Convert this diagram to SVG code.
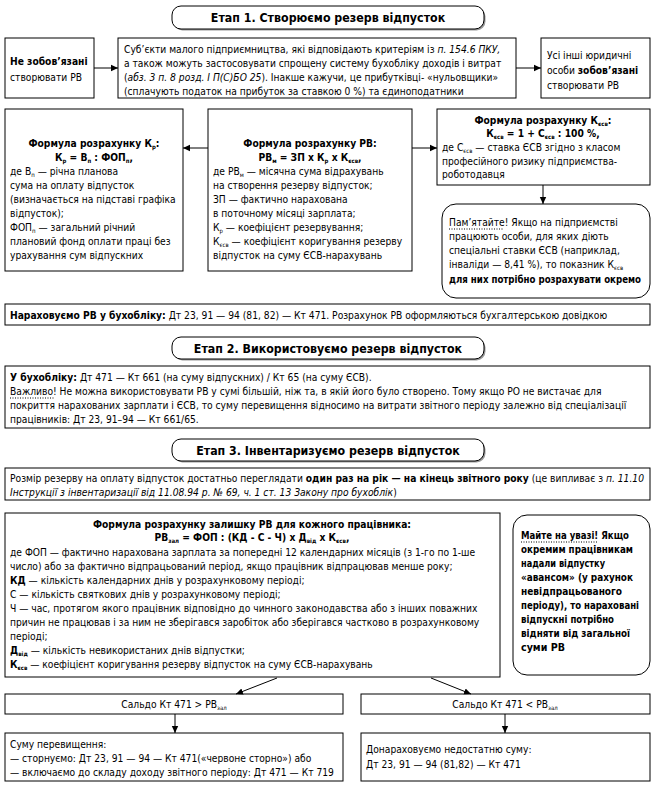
<svg xmlns="http://www.w3.org/2000/svg" width="656" height="787" viewBox="0 0 656 787">
<defs>
<marker id="ah" markerWidth="8" markerHeight="8" refX="7" refY="4" orient="auto" markerUnits="userSpaceOnUse">
<path d="M0,0.8 L7,4 L0,7.2 Z" fill="#000"/>
</marker>
<style>
text{font-family:"DejaVu Sans Condensed","Liberation Sans Narrow","Open Sans",sans-serif;font-size:10.2px;fill:#000}
.b{font-weight:bold}
.i{font-style:italic}
.c{text-anchor:middle}
.h{font-size:12.3px;font-weight:bold;text-anchor:middle}
.s{font-size:6px}
.nb{font-weight:bold;font-size:10.6px}
.box{fill:#fff;stroke:#000;stroke-width:1}
.tb{fill:#fff;stroke:#000;stroke-width:1}
.sh{fill:#999;stroke:none}
.con{stroke:#000;stroke-width:1;fill:none;marker-end:url(#ah)}
.dot{stroke:#000;stroke-width:1;stroke-dasharray:1,1.5}
</style>
</defs>
<rect width="656" height="787" fill="#fff"/>

<g id="title1">
<rect class="sh" x="173.5" y="7.5" width="312" height="23" rx="9"/>
<rect class="tb" x="172" y="6" width="312" height="23" rx="9"/>
<text class="h" x="328" y="22">Етап 1. Створюємо резерв відпусток</text>
</g>

<g id="n-not-obliged">
<rect class="box" x="5" y="38" width="89" height="60"/>
<text x="10" y="65"><tspan class="b">Не зобов’язані</tspan></text>
<text x="10" y="81">створювати РВ</text>
</g>

<g id="n-small-business">
<rect class="box" x="118" y="38" width="398" height="60"/>
<text x="124" y="53">Суб’єкти малого підприємництва, які відповідають критеріям із <tspan class="i">п. 154.6 ПКУ,</tspan></text>
<text x="124" y="67">а також можуть застосовувати спрощену систему бухобліку доходів і витрат</text>
<text x="124" y="81">(<tspan class="i">абз. 3 п. 8 розд. І П(С)БО 25</tspan>). Інакше кажучи, це прибутківці- «нульовщики»</text>
<text x="124" y="95">(сплачують податок на прибуток за ставкою 0 %) та єдиноподатники</text>
</g>

<g id="n-obliged">
<rect class="box" x="541" y="38" width="109" height="60"/>
<text x="547" y="59">Усі інші юридичні</text>
<text x="547" y="74">особи <tspan class="b">зобов’язані</tspan></text>
<text x="547" y="89">створювати РВ</text>
</g>

<g id="n-kr">
<rect class="box" x="5" y="109" width="178" height="162"/>
<text class="c b" x="94" y="147">Формула розрахунку К<tspan class="s" dy="2">р</tspan><tspan dy="-2">:</tspan></text>
<text class="c b" x="94" y="161">К<tspan class="s" dy="2">р</tspan><tspan dy="-2"> = В</tspan><tspan class="s" dy="2">п</tspan><tspan dy="-2"> : ФОП</tspan><tspan class="s" dy="2">п</tspan><tspan dy="-2">,</tspan></text>
<text x="10" y="175">де В<tspan class="s" dy="2">п</tspan><tspan dy="-2"> — річна планова</tspan></text>
<text x="10" y="189">сума на оплату відпусток</text>
<text x="10" y="203">(визначається на підставі графіка</text>
<text x="10" y="217">відпусток);</text>
<text x="10" y="231">ФОП<tspan class="s" dy="2">п</tspan><tspan dy="-2"> — загальний річний</tspan></text>
<text x="10" y="245">плановий фонд оплати праці без</text>
<text x="10" y="259">урахування сум відпускних</text>
</g>

<g id="n-rv">
<rect class="box" x="208" y="109" width="204" height="162"/>
<text class="c b" x="310" y="147">Формула розрахунку РВ:</text>
<text class="c b" x="310" y="161">РВ<tspan class="s" dy="2">м</tspan><tspan dy="-2"> = ЗП х К</tspan><tspan class="s" dy="2">р</tspan><tspan dy="-2"> х К</tspan><tspan class="s" dy="2">єсв</tspan><tspan dy="-2">,</tspan></text>
<text x="213" y="175">де РВ<tspan class="s" dy="2">м</tspan><tspan dy="-2"> — місячна сума відрахувань</tspan></text>
<text x="213" y="189">на створення резерву відпусток;</text>
<text x="213" y="203">ЗП — фактично нарахована</text>
<text x="213" y="217">в поточному місяці зарплата;</text>
<text x="213" y="231">К<tspan class="s" dy="2">р</tspan><tspan dy="-2"> — коефіцієнт резервування;</tspan></text>
<text x="213" y="245">К<tspan class="s" dy="2">єсв</tspan><tspan dy="-2"> — коефіцієнт коригування резерву</tspan></text>
<text x="213" y="259">відпусток на суму ЄСВ-нарахувань</text>
</g>

<g id="n-kesv">
<rect class="box" x="437" y="109" width="213" height="76"/>
<text class="c b" x="543" y="124">Формула розрахунку К<tspan class="s" dy="2">єсв</tspan><tspan dy="-2">:</tspan></text>
<text class="c b" x="543" y="137">К<tspan class="s" dy="2">єсв</tspan><tspan dy="-2"> = 1 + С</tspan><tspan class="s" dy="2">єсв</tspan><tspan dy="-2"> : 100 %,</tspan></text>
<text x="442" y="151">де С<tspan class="s" dy="2">єсв</tspan><tspan dy="-2"> — ставка ЄСВ згідно з класом</tspan></text>
<text x="442" y="165">професійного ризику підприємства-</text>
<text x="442" y="178">роботодавця</text>
</g>

<g id="n-remember">
<rect class="box" x="442" y="204" width="208" height="94" rx="14"/>
<text x="449" y="226">Пам’ятайте! Якщо на підприємстві</text>
<line class="dot" x1="449" y1="229" x2="503" y2="229"/>
<text x="449" y="240">працюють особи, для яких діють</text>
<text x="449" y="254">спеціальні ставки ЄСВ (наприклад,</text>
<text x="449" y="268">інваліди — 8,41 %), то показник К<tspan class="s" dy="2">єсв</tspan></text>
<text class="b" x="449" y="283" textLength="192" lengthAdjust="spacingAndGlyphs">для них потрібно розрахувати окремо</text>
</g>

<g id="n-accrue">
<rect class="box" x="5" y="304" width="645" height="21"/>
<text x="10" y="319"><tspan class="b">Нараховуємо РВ у бухобліку:</tspan> Дт 23, 91 — 94 (81, 82) — Кт 471. Розрахунок РВ оформляються бухгалтерською довідкою</text>
</g>

<g id="title2">
<rect class="sh" x="173.5" y="338.5" width="312" height="22" rx="9"/>
<rect class="tb" x="172" y="337" width="312" height="22" rx="9"/>
<text class="h" x="328" y="353">Етап 2. Використовуємо резерв відпусток</text>
</g>

<g id="n-use">
<rect class="box" x="5" y="366" width="645" height="62"/>
<text x="10" y="381"><tspan class="b">У бухобліку:</tspan> Дт 471 — Кт 661 (на суму відпускних) / Кт 65 (на суму ЄСВ).</text>
<text x="10" y="395">Важливо! Не можна використовувати РВ у сумі більшій, ніж та, в якій його було створено. Тому якщо РО не вистачає для</text>
<line class="dot" x1="10" y1="398" x2="54" y2="398"/>
<text x="10" y="409">покриття нарахованих зарплати і ЄСВ, то суму перевищення відносимо на витрати звітного періоду залежно від спеціалізації</text>
<text x="10" y="423">працівників: Дт 23, 91–94 — Кт 661/65.</text>
</g>

<g id="title3">
<rect class="sh" x="173.5" y="440.5" width="312" height="22" rx="9"/>
<rect class="tb" x="172" y="439" width="312" height="22" rx="9"/>
<text class="h" x="328" y="455">Етап 3. Інвентаризуємо резерв відпусток</text>
</g>

<g id="n-review">
<rect class="box" x="5" y="468" width="645" height="32"/>
<text x="10" y="482">Розмір резерву на оплату відпусток достатньо переглядати <tspan class="b">один раз на рік — на кінець звітного року</tspan> (це випливає з <tspan class="i">п. 11.10</tspan></text>
<text x="10" y="496"><tspan class="i">Інструкції з інвентаризації від 11.08.94 р. № 69, ч. 1 ст. 13 Закону про бухоблік</tspan>)</text>
</g>

<g id="n-balance-formula">
<rect class="box" x="5" y="513" width="495" height="164"/>
<text class="c b" x="252" y="528">Формула розрахунку залишку РВ для кожного працівника:</text>
<text class="c b" x="252" y="541">РВ<tspan class="s" dy="2">зал</tspan><tspan dy="-2">  = ФОП : (КД - С - Ч) х Д</tspan><tspan class="s" dy="2">від</tspan><tspan dy="-2"> х К</tspan><tspan class="s" dy="2">єсв</tspan><tspan dy="-2">,</tspan></text>
<text x="10" y="556">де ФОП — фактично нарахована зарплата за попередні 12 календарних місяців (з 1-го по 1-ше</text>
<text x="10" y="570">число) або за фактично відпрацьований період, якщо працівник відпрацював менше року;</text>
<text x="10" y="584"><tspan class="b">КД</tspan> — кількість календарних днів у розрахунковому періоді;</text>
<text x="10" y="598">С — кількість святкових днів у розрахунковому періоді;</text>
<text x="10" y="612">Ч — час, протягом якого працівник відповідно до чинного законодавства або з інших поважних</text>
<text x="10" y="626">причин не працював і за ним не зберігався заробіток або зберігався частково в розрахунковому</text>
<text x="10" y="640">періоді;</text>
<text x="10" y="654"><tspan class="b">Д</tspan><tspan class="s b" dy="2">від</tspan><tspan dy="-2"> — кількість невикористаних днів відпустки;</tspan></text>
<text x="10" y="668"><tspan class="b">К</tspan><tspan class="s b" dy="2">єсв</tspan><tspan dy="-2"> — коефіцієнт коригування резерву відпусток на суму ЄСВ-нарахувань</tspan></text>
</g>

<g id="n-note">
<rect class="box" x="513" y="515" width="137" height="160" rx="14"/>
<text class="nb" x="521" y="539" textLength="108" lengthAdjust="spacingAndGlyphs">Майте на увазі! Якщо</text>
<line class="dot" x1="521" y1="542" x2="597" y2="542"/>
<text class="nb" x="521" y="553" textLength="112" lengthAdjust="spacingAndGlyphs">окремим працівникам</text>
<text class="nb" x="521" y="567" textLength="84" lengthAdjust="spacingAndGlyphs">надали відпустку</text>
<text class="nb" x="521" y="581" textLength="112" lengthAdjust="spacingAndGlyphs">«авансом» (у рахунок</text>
<text class="nb" x="521" y="595" textLength="101" lengthAdjust="spacingAndGlyphs">невідпрацьованого</text>
<text class="nb" x="521" y="609" textLength="118" lengthAdjust="spacingAndGlyphs">періоду), то нараховані</text>
<text class="nb" x="521" y="623" textLength="93" lengthAdjust="spacingAndGlyphs">відпускні потрібно</text>
<text class="nb" x="521" y="637" textLength="109" lengthAdjust="spacingAndGlyphs">відняти від загальної</text>
<text class="nb" x="521" y="651">суми РВ</text>
</g>

<g id="n-more">
<rect class="box" x="5" y="694" width="338" height="20"/>
<text class="c" x="174" y="708">Сальдо Кт 471 &gt; РВ<tspan class="s" dy="2">зал</tspan></text>
</g>

<g id="n-less">
<rect class="box" x="361" y="694" width="289" height="20"/>
<text class="c" x="505" y="708">Сальдо Кт 471 &lt; РВ<tspan class="s" dy="2">зал</tspan></text>
</g>

<g id="n-excess">
<rect class="box" x="5" y="733" width="338" height="48"/>
<text x="10" y="748">Суму перевищення:</text>
<text x="10" y="762">— сторнуємо: Дт 23, 91 — 94 — Кт 471(«червоне сторно») або</text>
<text x="10" y="776">— включаємо до складу доходу звітного періоду: Дт 471 — Кт 719</text>
</g>

<g id="n-shortfall">
<rect class="box" x="361" y="733" width="289" height="48"/>
<text x="366" y="753">Донараховуємо недостатню суму:</text>
<text x="366" y="768">Дт 23, 91 — 94 (81,82) — Кт 471</text>
</g>

<g id="connectors">
<line class="con" x1="94" y1="68" x2="118" y2="68"/>
<line class="con" x1="516" y1="68" x2="541" y2="68"/>
<line class="con" x1="208" y1="148" x2="183" y2="148"/>
<line class="con" x1="412" y1="148" x2="437" y2="148"/>
<line class="con" x1="543" y1="185" x2="543" y2="204"/>
<line class="con" x1="277" y1="678" x2="236" y2="694"/>
<line class="con" x1="431" y1="678" x2="471" y2="694"/>
<line class="con" x1="175" y1="714" x2="175" y2="733"/>
<line class="con" x1="505" y1="714" x2="505" y2="733"/>
</g>
</svg>
